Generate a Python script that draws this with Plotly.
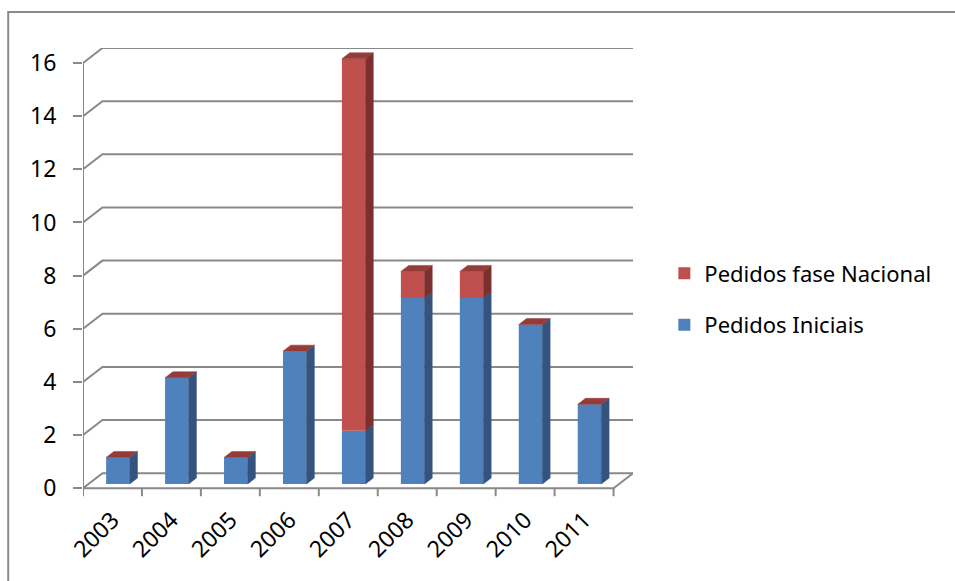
import plotly.graph_objects as go

# Data
years = ["2003", "2004", "2005", "2006", "2007", "2008", "2009", "2010", "2011"]
pedidos_iniciais = [1, 4, 1, 5, 2, 7, 7, 6, 3]
pedidos_nacional = [0, 0, 0, 0, 14, 1, 1, 0, 0]
y_ticks = [0, 2, 4, 6, 8, 10, 12, 14, 16]

# Pseudo-3D geometry (data units)
DEPTH_X = 0.33      # back-wall offset along x (category units)
DEPTH_Y = 0.565     # back-wall offset along y (value units)
BAR_Z0 = 0.28       # depth fraction where the bar front sits
BAR_DZ = 0.40       # depth fraction occupied by the bar
BAR_W = 0.40        # bar width (category units)
Y_MAX = 16

BLUE = "#4F81BD"
BLUE_SIDE = "#34547F"
RED = "#C0504D"
RED_SIDE = "#7C302E"
RED_TOP = "#953B39"
GRID = "#898989"
FONT = "Noto Sans"

n = len(years)
xs = list(range(n))
ox = BAR_Z0 * DEPTH_X
oy = BAR_Z0 * DEPTH_Y
ddx = BAR_DZ * DEPTH_X
ddy = BAR_DZ * DEPTH_Y

fig = go.Figure()

# Front faces
fig.add_trace(go.Bar(
    x=[x + ox for x in xs], y=pedidos_iniciais, base=[oy] * n, width=BAR_W,
    marker=dict(color=BLUE, line=dict(width=0)), name="Pedidos Iniciais",
    legendgroup="ini", legendrank=2, hoverinfo="skip"))
fig.add_trace(go.Bar(
    x=[x + ox for x in xs], y=pedidos_nacional,
    base=[a + oy for a in pedidos_iniciais], width=BAR_W,
    marker=dict(color=RED, line=dict(width=0)), name="Pedidos fase Nacional",
    legendgroup="nac", legendrank=1, hoverinfo="skip"))


def side_poly(i, lo, hi):
    xr = i + BAR_W / 2 + ox
    return ([xr, xr + ddx, xr + ddx, xr, xr, None],
            [lo + oy, lo + oy + ddy, hi + oy + ddy, hi + oy, lo + oy, None])


def top_poly(i, h):
    xl = i - BAR_W / 2 + ox
    xr = i + BAR_W / 2 + ox
    yt = h + oy
    return ([xl, xr, xr + ddx, xl + ddx, xl, None],
            [yt, yt, yt + ddy, yt + ddy, yt, None])


def poly_trace(px, py, color):
    return go.Scatter(x=px, y=py, mode="lines", fill="toself", fillcolor=color,
                      line=dict(width=0.5, color=color), showlegend=False,
                      hoverinfo="skip")


# Side faces
bx, by, rx, ry = [], [], [], []
for i in xs:
    a = pedidos_iniciais[i]
    b = a + pedidos_nacional[i]
    px, py = side_poly(i, 0, a)
    bx += px; by += py
    if pedidos_nacional[i] > 0:
        px, py = side_poly(i, a, b)
        rx += px; ry += py
fig.add_trace(poly_trace(bx, by, BLUE_SIDE))
fig.add_trace(poly_trace(rx, ry, RED_SIDE))

# Top faces
tx, ty = [], []
for i in xs:
    px, py = top_poly(i, pedidos_iniciais[i] + pedidos_nacional[i])
    tx += px; ty += py
fig.add_trace(poly_trace(tx, ty, RED_TOP))

# Walls, gridlines and axis lines
shapes = []
x0, x1 = -0.5, n - 0.5
line = dict(color=GRID, width=2)
for v in y_ticks[1:]:
    shapes.append(dict(type="path", layer="below", line=line,
                       path=f"M{x0},{v} L{x0 + DEPTH_X},{v + DEPTH_Y} L{x1 + DEPTH_X},{v + DEPTH_Y}"))
# floor
shapes.append(dict(type="path", layer="below", line=line,
                   path=f"M{x0},0 L{x1},0 L{x1 + DEPTH_X},{DEPTH_Y} L{x0 + DEPTH_X},{DEPTH_Y} Z"))
# vertical value axis
shapes.append(dict(type="line", layer="below", line=line, x0=x0, x1=x0, y0=0, y1=Y_MAX))
# category tick marks
for k in range(n + 1):
    shapes.append(dict(type="line", layer="below", line=line,
                       x0=x0 + k, x1=x0 + k, y0=0, y1=-0.3))
# chart-area border
shapes.append(dict(type="rect", xref="paper", yref="paper", layer="below",
                   x0=-0.136, x1=1.6, y0=-0.25, y1=1.080,
                   line=dict(color="#8a8a8a", width=2), fillcolor="rgba(0,0,0,0)"))

fig.update_layout(
    width=955, height=581, autosize=False,
    margin=dict(l=83, r=322, t=48, b=84, autoexpand=False),
    paper_bgcolor="white", plot_bgcolor="white",
    barmode="overlay",
    shapes=shapes,
    font=dict(family=FONT, size=23, color="black"),
    xaxis=dict(range=[x0, x1 + DEPTH_X], tickvals=xs, ticktext=years,
               tickangle=-45, showgrid=False, zeroline=False, showline=False,
               ticks="", ticklabelstandoff=4, fixedrange=True, automargin=False),
    yaxis=dict(range=[-0.33, Y_MAX + DEPTH_Y], tickvals=y_ticks,
               showgrid=False, zeroline=False, showline=False,
               ticks="outside", ticklen=9, tickwidth=2, tickcolor=GRID,
               ticklabelstandoff=12, fixedrange=True, automargin=False),
    legend=dict(x=1.057, xanchor="left", y=0.44, yanchor="middle",
                traceorder="grouped", tracegroupgap=20,
                font=dict(family=FONT, size=22), bgcolor="rgba(0,0,0,0)"),
    showlegend=True,
)

fig.write_html("out.html")
